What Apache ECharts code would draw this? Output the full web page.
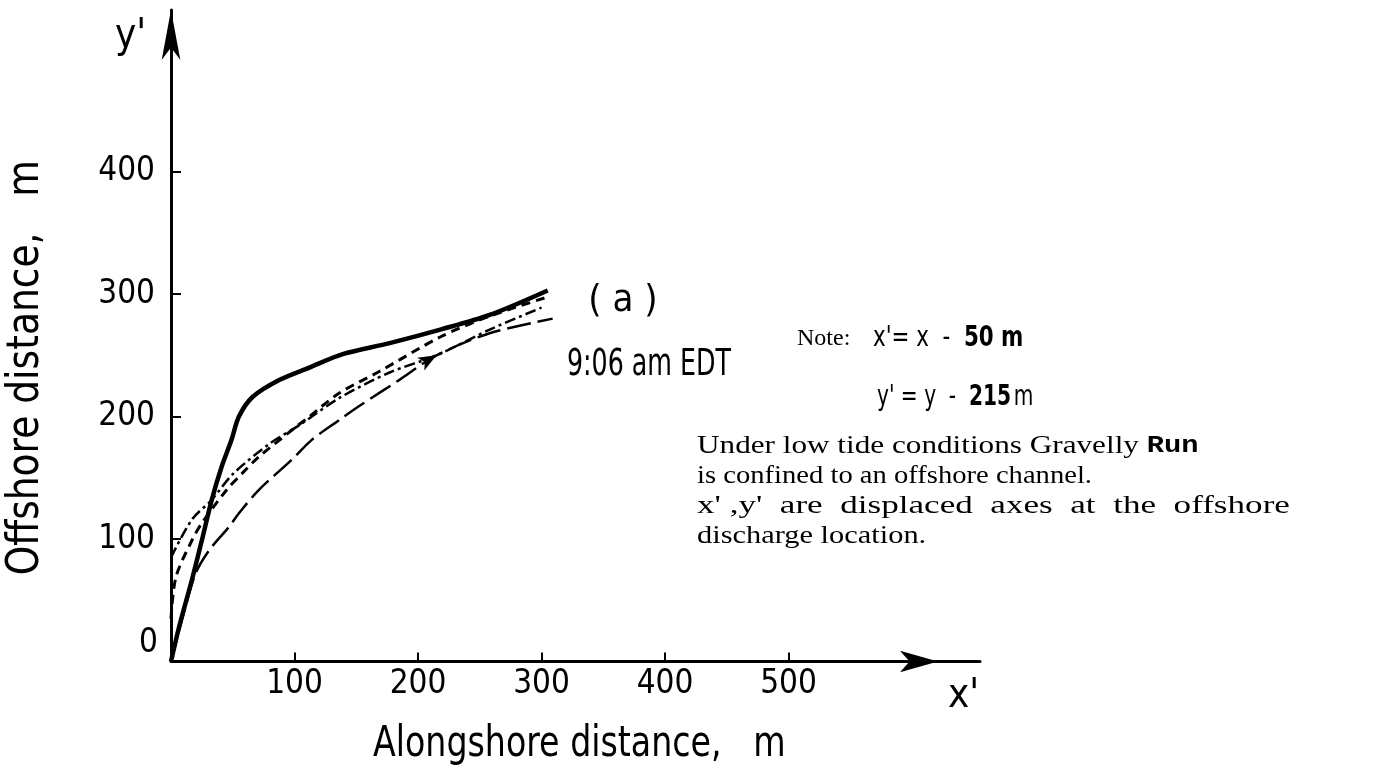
<!DOCTYPE html>
<html lang="en">
<head>
<meta charset="UTF-8">
<title>Gravelly Run plume outline (a)</title>
<script src="https://cdn.jsdelivr.net/npm/echarts@6.0.0/dist/echarts.min.js"></script>
<style>
  html, body { margin: 0; padding: 0; background: #fff; }
  #chart { width: 1384px; height: 775px; }
</style>
</head>
<body>
<div id="chart"></div>
<script>
// plume outlines at 9:06 am EDT, x' / y' in metres
const solidX = [0, 6.5, 17, 25, 33, 41, 49, 55, 66, 88, 112, 139, 177, 218, 258, 305];
const solidY = [0, 28, 67, 99, 132, 159, 181, 200, 216, 230, 240, 251, 260, 271, 283, 303];

const shortDashX = [0, 4, 17, 25, 45, 58, 71, 98, 112, 136, 169, 218, 258, 303];
const shortDashY = [35, 69, 99, 113, 140, 154, 167, 189, 200, 219, 237, 265, 282, 297];

const dashDotX = [0, 17, 33, 50, 80, 104, 136, 177, 215, 258, 300];
const dashDotY = [85, 116, 132, 153, 178, 193, 215, 236, 250, 271, 289];

const longDashX = [0, 11, 20, 31, 47, 55, 71, 98, 114, 136, 153, 185, 215, 258, 309];
const longDashY = [0, 42, 72, 91, 110, 121, 140, 165, 181, 197, 209, 230, 250, 268, 280];

const xTicks = [100, 200, 300, 400, 500];
const yTicks = [100, 200, 300, 400];

const cond = "'DejaVu Sans Condensed', 'Liberation Sans Narrow', sans-serif";
const serif = "'Liberation Serif', 'DejaVu Serif', serif";

function pairs(xs, ys) {
  return xs.map((x, i) => [x, ys[i]]);
}

const chart = echarts.init(document.getElementById('chart'), null, { renderer: 'canvas' });

const lineBase = { type: 'line', smooth: 0.3, showSymbol: false, symbol: 'none', silent: true };

// plain black text helper for the graphic layer
function txt(x, y, text, font, extra) {
  return Object.assign({
    type: 'text', x: x, y: y,
    style: { text: text, font: font, fill: '#000', verticalAlign: 'middle' }
  }, extra || {});
}

const option = {
  backgroundColor: '#fff',
  animation: false,
  grid: { left: 171, top: 10, width: 809, height: 651.5, outerBoundsMode: 'none' },
  xAxis: {
    type: 'value', min: 0, max: 655,
    axisLine: {
      lineStyle: { color: '#000', width: 3 },
      symbol: ['none', 'arrow'], symbolSize: [16, 38], symbolOffset: [0, -42]
    },
    axisTick: { inside: true, length: 9, lineStyle: { color: '#000', width: 2 }, customValues: xTicks },
    axisLabel: { customValues: xTicks, color: '#000', fontFamily: cond, fontSize: 33, margin: 6 },
    splitLine: { show: false }
  },
  yAxis: {
    type: 'value', min: 0, max: 532,
    axisLine: {
      lineStyle: { color: '#000', width: 3 },
      symbol: ['none', 'arrow'], symbolSize: [14, 50], symbolOffset: [0, 0]
    },
    axisTick: { inside: true, length: 10, lineStyle: { color: '#000', width: 2 }, customValues: yTicks },
    axisLabel: { customValues: yTicks, color: '#000', fontFamily: cond, fontSize: 33, margin: 16 },
    splitLine: { show: false }
  },
  series: [
    Object.assign({}, lineBase, {
      name: 'solid', data: pairs(solidX, solidY),
      lineStyle: { color: '#000', width: 4.5 }
    }),
    Object.assign({}, lineBase, {
      name: 'short dash', data: pairs(shortDashX, shortDashY),
      lineStyle: { color: '#000', width: 3, type: [9, 6] }
    }),
    Object.assign({}, lineBase, {
      name: 'dash dot', data: pairs(dashDotX, dashDotY),
      lineStyle: { color: '#000', width: 2.5, type: [11, 4, 3, 4] },
      markPoint: {
        silent: true, symbol: 'arrow', symbolSize: [11, 18], symbolRotate: -61,
        itemStyle: { color: '#000' }, label: { show: false },
        data: [{ coord: [dashDotX[8], dashDotY[8]] }]
      }
    }),
    Object.assign({}, lineBase, {
      name: 'long dash', data: pairs(longDashX, longDashY),
      lineStyle: { color: '#000', width: 2.5, type: [24, 7] }
    })
  ],
  graphic: [
    txt(115, 37, "y'", '40px ' + cond),
    txt(948, 697, "x'", '40px ' + cond),
    txt(158, 643, '0', '33px ' + cond, { style: { text: '0', font: '33px ' + cond, fill: '#000', align: 'right', verticalAlign: 'middle' } }),
    txt(373, 745, 'Alongshore distance,   m', '42px ' + cond, { scaleX: 0.88 }),
    { type: 'text', x: 27, y: 160, rotation: Math.PI / 2, scaleX: 0.95,
      style: { text: 'Offshore distance,   m', font: '44px ' + cond, fill: '#000', align: 'right', verticalAlign: 'middle' } },
    { type: 'text', x: 623, y: 301, style: { text: '( a )', font: '38px ' + cond, fill: '#000', align: 'center', verticalAlign: 'middle' } },
    txt(567, 365, '9:06 am EDT', '38px ' + cond, { scaleX: 0.74 }),
    txt(797, 339, 'Note:', '24px ' + serif),
    { type: 'text', x: 873, y: 339, scaleX: 0.85, style: {
        text: "{a|x'= x  -  }{b|50 m}", verticalAlign: 'middle',
        rich: { a: { font: '28px ' + cond, fill: '#000' }, b: { font: 'bold 28px ' + cond, fill: '#000' } } } },
    { type: 'text', x: 877, y: 398, scaleX: 0.8, style: {
        text: "{a|y' = y  -  }{b|215} {a|m}", verticalAlign: 'middle',
        rich: { a: { font: '28px ' + cond, fill: '#000' }, b: { font: 'bold 28px ' + cond, fill: '#000' } } } },
    { type: 'text', x: 697, y: 446, scaleX: 1.2, style: {
        text: '{s|Under low tide conditions Gravelly }{r|Run}', verticalAlign: 'middle',
        rich: { s: { font: '26px ' + serif, fill: '#000' }, r: { font: 'bold 24px "Liberation Mono", monospace', fill: '#000' } } } },
    txt(697, 476, 'is confined to an offshore channel.', '26px ' + serif, { scaleX: 1.1 }),
    txt(697, 506, "x' ,y'  are  displaced  axes  at  the  offshore", '26px ' + serif, { scaleX: 1.35 }),
    txt(697, 536, 'discharge location.', '26px ' + serif, { scaleX: 1.17 })
  ]
};

chart.setOption(option);
</script>
</body>
</html>
